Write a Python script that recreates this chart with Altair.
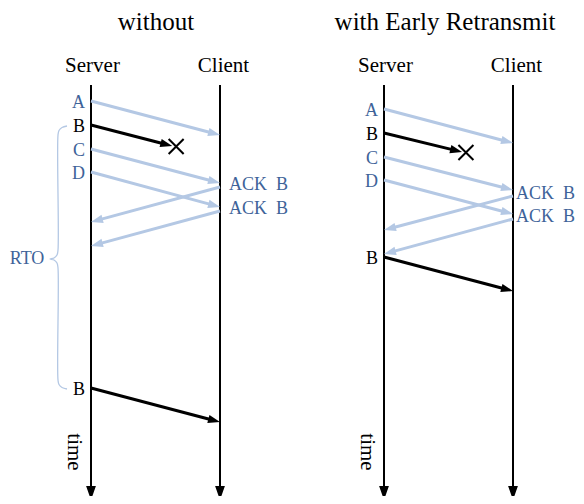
import math
import altair as alt
import pandas as pd

# ---------------- data (positions, canvas px) ----------------
PANEL_TITLES = ["without", "with Early Retransmit"]
PANEL_TITLE_X = [156, 445]
SERVER_X = [91, 384]
CLIENT_X = [220, 513]
LANE_NAMES = ["Server", "Client"]
LANE_TOP = 85
LANE_END = 500

MSG_TEXT = ["A", "B", "C", "D", "ACK\u00a0\u00a0B", "ACK\u00a0\u00a0B", "B"]
MSG_FROM = ["server", "server", "server", "server", "client", "client", "server"]
MSG_KIND = ["data", "lost", "data", "data", "ack", "ack", "retx"]
SEND_T = [[101, 125, 149, 172, 187, 211, 388],
          [109, 133, 157, 180, 196, 219, 257]]
RECV_T = [[135, 146, 183, 207, 222, 246, 422],
          [143, 152, 190, 214, 230, 254, 291]]
LOST_FRAC = [0.63, 0.605]
ACK_GAP = [9, 3]

RTO_LABEL = "RTO"
RTO_LABEL_POS = (27, 259)
BRACE_X = [67, 62, 59, 58, 58, 57, 54, 50, 54, 57, 58, 58, 59, 62, 67]
BRACE_Y = [126, 127.5, 130.5, 135, 250, 255, 258, 259, 260, 263, 268, 380, 384.5, 387.5, 389]

TIME_LABEL = "time"
TIME_OFFSET = -17
TIME_Y = 452

LIGHT = "#b4c8e4"
BLUE = "#3e6399"
BLACK = "#000000"
FONT = "Liberation Serif"

# ---------------- build tables ----------------
lanes, lane_heads, headers, titles, arrows, heads, crosses = [], [], [], [], [], [], []
lab_right, lab_left, centered = [], [], []

for p in range(2):
    sx, cx = SERVER_X[p], CLIENT_X[p]
    for name, lx in zip(LANE_NAMES, [sx, cx]):
        lanes.append(dict(x=lx, y=LANE_TOP, y2=LANE_END - 10))
        lane_heads.append(dict(x=lx, y=LANE_END, angle=90, color=BLACK))
        headers.append(dict(x=lx + (1.5 if name == "Server" else 3.5), y=72, text=name))
    titles.append(dict(x=PANEL_TITLE_X[p], y=30, text=PANEL_TITLES[p]))
    centered.append(dict(x=sx + TIME_OFFSET, y=TIME_Y, text=TIME_LABEL, size=21, angle=90, color=BLACK))
    for i, txt in enumerate(MSG_TEXT):
        kind = MSG_KIND[i]
        if MSG_FROM[i] == "server":
            x1, x2 = sx, cx
        else:
            x1, x2 = cx, sx
        if kind == "lost":
            x2 = sx + LOST_FRAC[p] * (cx - sx)
        y1, y2 = SEND_T[p][i], RECV_T[p][i]
        dx, dy = x2 - x1, y2 - y1
        L = math.hypot(dx, dy)
        ux, uy = dx / L, dy / L
        ang = math.degrees(math.atan2(dy, dx)) % 360
        col = BLACK if kind in ("lost", "retx") else LIGHT
        arrows.append(dict(x=x1, y=y1, x2=x2 - 9 * ux, y2=y2 - 9 * uy, color=col))
        heads.append(dict(x=x2, y=y2, angle=ang, color=col))
        if kind == "lost":
            crosses.append(dict(x=x2 + 4 * ux, y=y2 + 2 * uy))
        if MSG_FROM[i] == "server":
            lab_right.append(dict(x=sx - 6, y=y1 + 2, text=txt,
                                  color=BLACK if kind in ("lost", "retx") else BLUE))
        else:
            lab_left.append(dict(x=cx + ACK_GAP[p], y=y1 - 2.5, text=txt, color=BLUE))

centered.append(dict(x=RTO_LABEL_POS[0], y=RTO_LABEL_POS[1], text=RTO_LABEL, size=18, angle=0, color=BLUE))
brace = pd.DataFrame(dict(x=BRACE_X, y=BRACE_Y, order=list(range(len(BRACE_X)))))

# ---------------- encodings ----------------
XS = alt.Scale(domain=[8, 576], nice=False, zero=False)
YS = alt.Scale(domain=[8, 496], nice=False, zero=False, reverse=True)


def X(f="x"):
    return alt.X(f"{f}:Q", scale=XS, axis=None)


def Y(f="y"):
    return alt.Y(f"{f}:Q", scale=YS, axis=None)


COL = alt.Color("color:N", scale=None)
ARROW = "M0,0L-2,-0.7L-2,0.7Z"
CROSS = "M-1,-1L1,1M-1,1L1,-1"

lane_layer = alt.Chart(pd.DataFrame(lanes)).mark_rule(color=BLACK, strokeWidth=2).encode(
    x=X(), y=Y(), y2="y2:Q")
lane_head_layer = alt.Chart(pd.DataFrame(lane_heads)).mark_point(
    shape=ARROW, filled=True, size=196, opacity=1, strokeWidth=0).encode(
    x=X(), y=Y(), angle=alt.Angle("angle:Q", scale=None), color=COL)
arrow_layer = alt.Chart(pd.DataFrame(arrows)).mark_rule(strokeWidth=3).encode(
    x=X(), y=Y(), x2="x2:Q", y2="y2:Q", color=COL)
head_layer = alt.Chart(pd.DataFrame(heads)).mark_point(
    shape=ARROW, filled=True, size=144, opacity=1, strokeWidth=0).encode(
    x=X(), y=Y(), angle=alt.Angle("angle:Q", scale=None), color=COL)
cross_layer = alt.Chart(pd.DataFrame(crosses)).mark_point(
    shape=CROSS, filled=False, size=225, opacity=1, strokeWidth=2, color=BLACK).encode(
    x=X(), y=Y())
brace_layer = alt.Chart(brace).mark_line(
    color=LIGHT, strokeWidth=1.3, interpolate="catmull-rom").encode(
    x=X(), y=Y(), order="order:Q")

title_layer = alt.Chart(pd.DataFrame(titles)).mark_text(
    font=FONT, fontSize=25, align="center", baseline="alphabetic", color=BLACK).encode(
    x=X(), y=Y(), text="text:N")
header_layer = alt.Chart(pd.DataFrame(headers)).mark_text(
    font=FONT, fontSize=21, align="center", baseline="alphabetic", color=BLACK).encode(
    x=X(), y=Y(), text="text:N")
center_layer = alt.Chart(pd.DataFrame(centered)).mark_text(
    font=FONT, align="center", baseline="middle").encode(
    x=X(), y=Y(), text="text:N", color=COL,
    size=alt.Size("size:Q", scale=None), angle=alt.Angle("angle:Q", scale=None))
right_lab_layer = alt.Chart(pd.DataFrame(lab_right)).mark_text(
    font=FONT, fontSize=18, align="right", baseline="middle").encode(
    x=X(), y=Y(), text="text:N", color=COL)
left_lab_layer = alt.Chart(pd.DataFrame(lab_left)).mark_text(
    font=FONT, fontSize=18, align="left", baseline="middle").encode(
    x=X(), y=Y(), text="text:N", color=COL)

chart = alt.layer(
    brace_layer, lane_layer, lane_head_layer, arrow_layer, head_layer, cross_layer,
    title_layer, header_layer, center_layer, right_lab_layer, left_lab_layer,
).properties(
    width=568, height=488, padding=0,
    autosize=alt.AutoSizeParams(type="none"),
    background="white",
).configure_view(stroke=None)

chart.save("out.html", embed_options={"renderer": "svg", "actions": False})
